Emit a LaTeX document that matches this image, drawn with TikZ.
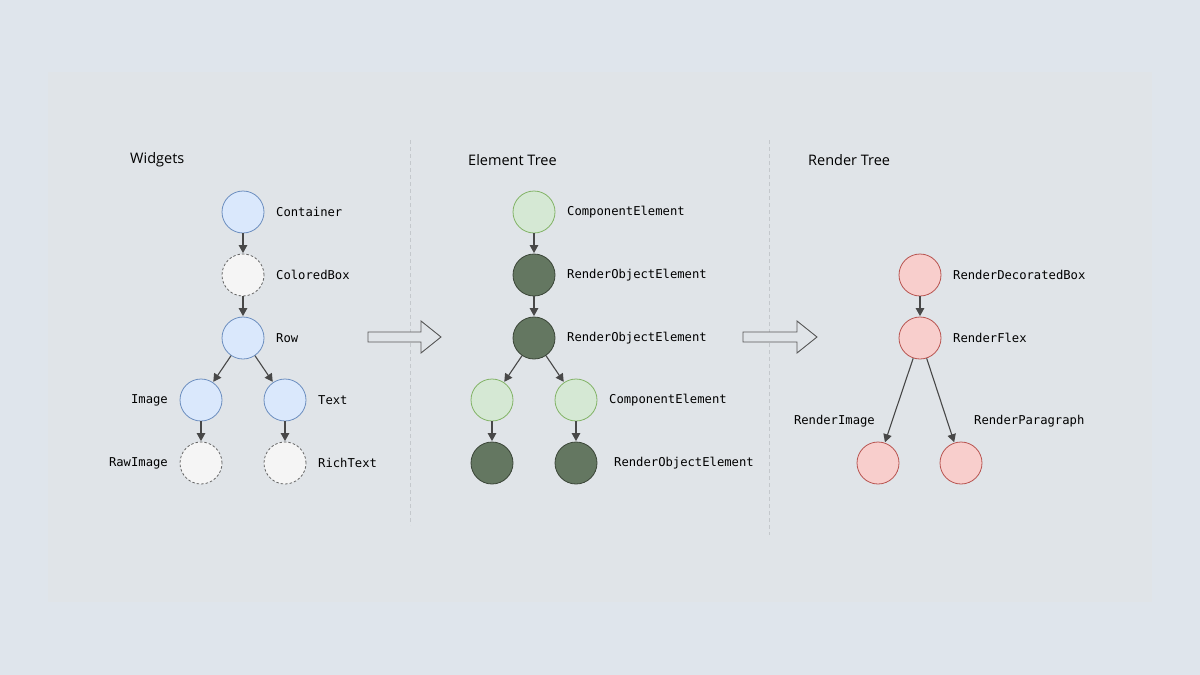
\documentclass[tikz,border=0pt]{standalone}
\usepackage{fontspec}
\setmainfont{Open Sans}
\newfontfamily\codefont{DejaVu Sans Mono}
\usetikzlibrary{arrows.meta}
\definecolor{outerbg}{HTML}{DFE5EC}
\definecolor{innerbg}{HTML}{E0E4E8}
\definecolor{bluefill}{HTML}{DAE8FC}
\definecolor{bluedraw}{HTML}{6C8EBF}
\definecolor{greyfill}{HTML}{F5F5F5}
\definecolor{greydraw}{HTML}{666666}
\definecolor{lgfill}{HTML}{D5E8D4}
\definecolor{lgdraw}{HTML}{82B366}
\definecolor{dgfill}{HTML}{647761}
\definecolor{dgdraw}{HTML}{3A4537}
\definecolor{pkfill}{HTML}{F8CECC}
\definecolor{pkdraw}{HTML}{B85450}
\definecolor{edgecol}{HTML}{484848}
\definecolor{divcol}{HTML}{C4C8CC}
\tikzset{
  circ/.style={circle, minimum size=42pt, inner sep=0pt, line width=0.8pt},
  bluenode/.style={circ, fill=bluefill, draw=bluedraw},
  dashnode/.style={circ, fill=greyfill, draw=greydraw, dash pattern=on 2.5pt off 2pt},
  lgnode/.style={circ, fill=lgfill, draw=lgdraw},
  dgnode/.style={circ, fill=dgfill, draw=dgdraw},
  pknode/.style={circ, fill=pkfill, draw=pkdraw},
  lbl/.style={font=\codefont\fontsize{12.2}{14}\selectfont, text=black, inner sep=0pt},
  ttl/.style={font=\fontsize{14.5}{17}\selectfont, text=black, inner sep=0pt, anchor=west},
  edge/.style={draw=edgecol, line width=1.1pt, -{Triangle[length=8pt,width=8.5pt]}, shorten >=0.5pt},
  divider/.style={draw=divcol, line width=0.8pt, dash pattern=on 4pt off 3pt},
  blockarrow/.style={draw=black!65, fill=innerbg, line width=0.9pt, line join=miter}
}
\begin{document}
\begin{tikzpicture}[x=1pt,y=-1pt]
\fill[outerbg] (0,0) rectangle (1200,675);
\fill[innerbg] (48,72) rectangle (1152,602);
\useasboundingbox (0,0) rectangle (1200,675);

% dividers
\coordinate (d1a) at (410,140); \coordinate (d1b) at (410,525);
\coordinate (d2a) at (769,140); \coordinate (d2b) at (769,535);
\draw[divider] (d1a) -- (d1b);
\draw[divider] (d2a) -- (d2b);

% titles
\node[ttl] (t1) at (130,160) {Widgets};
\node[ttl] (t2) at (468,160) {Element Tree};
\node[ttl] (t3) at (808,160) {Render Tree};

% Widgets tree
\node[bluenode] (w1) at (243,212) {};
\node[dashnode] (w2) at (243,275) {};
\node[bluenode] (w3) at (243,338) {};
\node[bluenode] (w4) at (201,400) {};
\node[bluenode] (w5) at (285,400) {};
\node[dashnode] (w6) at (201,463) {};
\node[dashnode] (w7) at (285,463) {};
\node[lbl, anchor=west] (lw1) at (276,212) {Container};
\node[lbl, anchor=west] (lw2) at (276,275) {ColoredBox};
\node[lbl, anchor=west] (lw3) at (276,338) {Row};
\node[lbl, anchor=east] (lw4) at (168,400) {Image};
\node[lbl, anchor=west] (lw5) at (318,400) {Text};
\node[lbl, anchor=east] (lw6) at (168,463) {RawImage};
\node[lbl, anchor=west] (lw7) at (318,463) {RichText};
\draw[edge] (w1) -- (w2);
\draw[edge] (w2) -- (w3);
\draw[edge] (w3) -- (w4);
\draw[edge] (w3) -- (w5);
\draw[edge] (w4) -- (w6);
\draw[edge] (w5) -- (w7);

% Element tree
\node[lgnode] (e1) at (534,212) {};
\node[dgnode] (e2) at (534,275) {};
\node[dgnode] (e3) at (534,338) {};
\node[lgnode] (e4) at (492,400) {};
\node[lgnode] (e5) at (576,400) {};
\node[dgnode] (e6) at (492,463) {};
\node[dgnode] (e7) at (576,463) {};
\node[lbl, anchor=west] (le1) at (567,212) {ComponentElement};
\node[lbl, anchor=west] (le2) at (567,275) {RenderObjectElement};
\node[lbl, anchor=west] (le3) at (567,338) {RenderObjectElement};
\node[lbl, anchor=west] (le5) at (609,400) {ComponentElement};
\node[lbl, anchor=west] (le7) at (614,463) {RenderObjectElement};
\draw[edge] (e1) -- (e2);
\draw[edge] (e2) -- (e3);
\draw[edge] (e3) -- (e4);
\draw[edge] (e3) -- (e5);
\draw[edge] (e4) -- (e6);
\draw[edge] (e5) -- (e7);

% Render tree
\node[pknode] (r1) at (920,275) {};
\node[pknode] (r2) at (920,338) {};
\node[pknode] (r3) at (878,463) {};
\node[pknode] (r4) at (961,463) {};
\node[lbl, anchor=west] (lr1) at (953,275) {RenderDecoratedBox};
\node[lbl, anchor=west] (lr2) at (953,338) {RenderFlex};
\node[lbl, anchor=east] (lr3) at (875,421) {RenderImage};
\node[lbl, anchor=west] (lr4) at (974,421) {RenderParagraph};
\draw[edge] (r1) -- (r2);
\draw[edge] (r2) -- (r3);
\draw[edge] (r2) -- (r4);

% block arrows
\draw[blockarrow] (368,332) -- (421,332) -- (421,321) -- (441,337) -- (421,353) -- (421,342) -- (368,342) -- cycle;
\draw[blockarrow] (743,332) -- (797,332) -- (797,321) -- (817,337) -- (797,353) -- (797,342) -- (743,342) -- cycle;
\end{tikzpicture}
\end{document}
